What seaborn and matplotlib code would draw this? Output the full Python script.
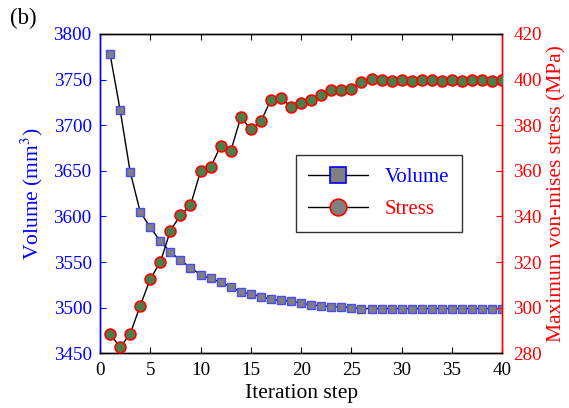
import matplotlib
matplotlib.use("Agg")
import matplotlib.pyplot as plt
from matplotlib.lines import Line2D
import seaborn as sns
import numpy as np

steps = list(range(1, 41))
volume = [3778, 3717, 3649, 3605, 3588, 3573, 3561, 3552, 3544, 3536,
          3532, 3528, 3523, 3517, 3515, 3512, 3509, 3508, 3507, 3505,
          3503, 3502, 3501, 3501, 3500, 3499, 3499, 3499, 3499, 3499,
          3499, 3499, 3499, 3499, 3499, 3499, 3499, 3499, 3499, 3499]
stress = [288.5, 282.6, 288.5, 300.8, 312.6, 319.9, 333.8, 340.5, 344.9, 359.8,
          361.5, 371.0, 368.6, 383.5, 378.2, 381.7, 391.2, 391.9, 388.1, 389.9,
          391.1, 393.4, 395.3, 395.4, 396.0, 399.0, 400.1, 400.0, 399.3, 400.0,
          399.5, 400.0, 400.0, 399.5, 400.0, 399.5, 400.0, 400.0, 399.5, 400.0]
xticks = [0, 5, 10, 15, 20, 25, 30, 35, 40]
vticks = [3450, 3500, 3550, 3600, 3650, 3700, 3750, 3800]
sticks = [280, 300, 320, 340, 360, 380, 400, 420]

sns.set_style("ticks")
plt.rcParams['font.family'] = ['Liberation Serif', 'DejaVu Serif']
plt.rcParams['mathtext.fontset'] = 'stix'

BLUE = '#0000ff'
RED = '#ff0000'

fig = plt.figure(figsize=(5.69, 4.08), dpi=100)
ax = fig.add_axes([0.1757, 0.1341, 0.8828 - 0.1757, 0.9167 - 0.1341])
ax2 = ax.twinx()

sns.lineplot(x=steps, y=volume, ax=ax, color='black', linewidth=1.0,
             marker='s', markersize=5.5, markerfacecolor='#808080',
             markeredgecolor='#4a4aff', markeredgewidth=1.0, zorder=3)
sns.lineplot(x=steps, y=stress, ax=ax2, color='black', linewidth=1.0,
             marker='o', markersize=7.8, markerfacecolor='#4a7f4a',
             markeredgecolor=RED, markeredgewidth=1.2, zorder=3)

ax.set_xlim(0, 40)
ax.set_ylim(3450, 3800)
ax2.set_ylim(280, 420)
ax.set_xticks(xticks)
ax.set_yticks(vticks)
ax2.set_yticks(sticks)

fs = 13.8
ax.tick_params(axis='x', direction='in', top=True, labelsize=fs, colors='black', length=4, width=0.8, pad=6)
ax.tick_params(axis='y', direction='in', labelsize=fs, colors=BLUE, length=4, width=0.8, pad=6)
ax2.tick_params(axis='y', direction='in', labelsize=fs, colors=RED, length=4, width=0.8, pad=8)

for a in (ax, ax2):
    for s in a.spines.values():
        s.set_visible(True)
        s.set_linewidth(1.0)
        s.set_color('black')
ax.spines['left'].set_color(BLUE)
ax2.spines['left'].set_color(BLUE)
ax.spines['right'].set_color(RED)
ax2.spines['right'].set_color(RED)

lfs = 15.5
ax.set_xlabel('Iteration step', fontsize=lfs, color='black', labelpad=4)
ax.set_ylabel('Volume (mm$^3$)', fontsize=lfs, color=BLUE, labelpad=6)
ax2.set_ylabel('Maximum von-mises stress (MPa)', fontsize=lfs, color=RED, labelpad=3.5)

handles = [
    Line2D([0], [0], color='black', linewidth=1.0, marker='s', markersize=11,
           markerfacecolor='#808080', markeredgecolor=BLUE, markeredgewidth=1.2),
    Line2D([0], [0], color='black', linewidth=1.0, marker='o', markersize=12,
           markerfacecolor='#808080', markeredgecolor=RED, markeredgewidth=1.2),
]
leg = ax2.legend(handles, ['Volume', 'Stress'], loc='upper left',
                 bbox_to_anchor=((296 - 100) / 402.3, 1 - (155 - 34) / 319.3),
                 fontsize=15, frameon=True, fancybox=False, edgecolor='black',
                 handlelength=2.85, handletextpad=0.8, borderpad=0.6,
                 labelspacing=0.6, borderaxespad=0)
leg.get_frame().set_linewidth(1.0)
leg.get_texts()[0].set_color(BLUE)
leg.get_texts()[1].set_color(RED)

fig.text(0.018, 0.955, '(b)', fontsize=16.5, color='black', ha='left', va='center')

fig.savefig('out.png', dpi=100)
